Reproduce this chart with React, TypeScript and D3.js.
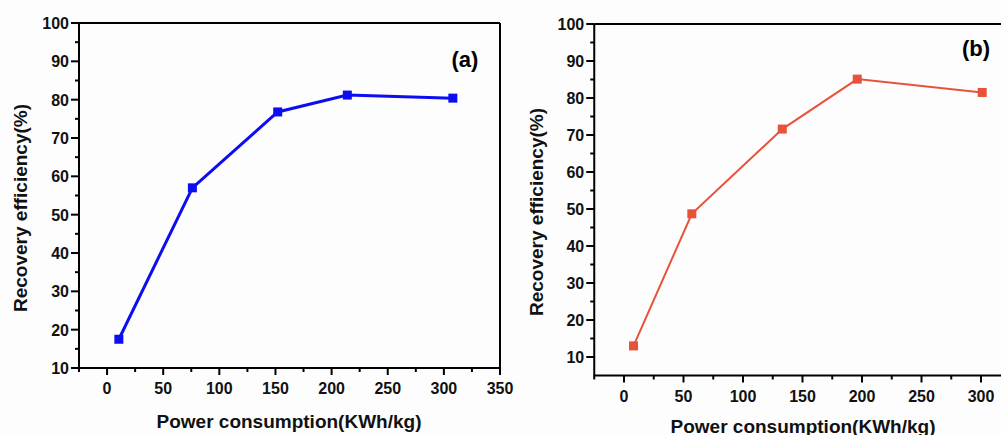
import React from 'react';
import * as d3 from 'd3';

// panel (a)
const powerA = [10.5, 76, 152, 214, 308];
const effA = [17.5, 57, 76.8, 81.2, 80.4];
// panel (b)
const powerB = [8, 57, 133, 196, 301];
const effB = [13, 48.7, 71.6, 85.1, 81.5];

const xTickLabels = [0, 50, 100, 150, 200, 250, 300, 350];
const yTickLabels = [10, 20, 30, 40, 50, 60, 70, 80, 90, 100];

const xTitle = 'Power consumption(KWh/kg)';
const yTitle = 'Recovery efficiency(%)';

const FONT = '"Liberation Sans", Arial, sans-serif';
const W = 1001;

type PanelProps = {
  xs: number[];
  ys: number[];
  color: string;
  lineWidth: number;
  marker: number;
  label: string;
  xRange: [number, number];
  yRange: [number, number];
  yDomain: [number, number];
  labelPos: [number, number];
  yTitlePos: [number, number];
  xTitlePos: [number, number];
};

function Panel(p: PanelProps) {
  const x = d3.scaleLinear().domain([-25, 350]).range(p.xRange);
  const y = d3.scaleLinear().domain(p.yDomain).range(p.yRange);
  const [x0, x1] = p.xRange;
  const [yb, yt] = p.yRange;

  const xMinor = d3.range(-25, 351, 50);
  const yMinor = d3.range(15, 100, 10);
  const line = d3.line<number>().x((d, i) => x(p.xs[i])).y(d => y(d));

  return (
    <g fontFamily={FONT} fontWeight="bold" fill="#111">
      {/* frame: left, bottom, top, right */}
      <path d={`M${x0},${yt}H${x1}M${x0},${yt}V${yb}H${x1}V${yt}`} fill="none" stroke="#000" strokeWidth={2} />
      {xTickLabels.filter(t => x(t) < W).map(t => (
        <g key={'xt' + t}>
          <line x1={x(t)} x2={x(t)} y1={yb} y2={yb + 7} stroke="#000" strokeWidth={2} />
          {x(t) + 14 < W && (
            <text x={x(t)} y={yb + 26} fontSize={16} textAnchor="middle">{t}</text>
          )}
        </g>
      ))}
      {xMinor.map(t => (
        <line key={'xm' + t} x1={x(t)} x2={x(t)} y1={yb} y2={yb + 4} stroke="#000" strokeWidth={2} />
      ))}
      {yTickLabels.map(t => (
        <g key={'yt' + t}>
          <line x1={x0 - 8} x2={x0} y1={y(t)} y2={y(t)} stroke="#000" strokeWidth={2} />
          <text x={x0 - 10} y={y(t) + 6} fontSize={16} textAnchor="end">{t}</text>
        </g>
      ))}
      {yMinor.map(t => (
        <line key={'ym' + t} x1={x0 - 4} x2={x0} y1={y(t)} y2={y(t)} stroke="#000" strokeWidth={2} />
      ))}
      <path d={line(p.ys) || ''} fill="none" stroke={p.color} strokeWidth={p.lineWidth} />
      {p.ys.map((v, i) => (
        <rect key={'m' + i} x={x(p.xs[i]) - p.marker / 2} y={y(v) - p.marker / 2}
          width={p.marker} height={p.marker} fill={p.color} />
      ))}
      <text x={p.labelPos[0]} y={p.labelPos[1]} fontSize={22} textAnchor="middle" fill="#000">{p.label}</text>
      <text x={p.xTitlePos[0]} y={p.xTitlePos[1]} fontSize={19} textAnchor="middle">{xTitle}</text>
      <text transform={`translate(${p.yTitlePos[0]},${p.yTitlePos[1]}) rotate(-90)`} fontSize={19} textAnchor="middle">{yTitle}</text>
    </g>
  );
}

export default function App() {
  return (
    <svg width={W} height={435} style={{ position: 'absolute', left: 0, top: 0, background: '#fdfdfd' }}>
      <Panel xs={powerA} ys={effA} color="#0d0df2" lineWidth={3} marker={9} label="(a)"
        xRange={[79, 500]} yRange={[368, 23]} yDomain={[10, 100]}
        labelPos={[465, 67]} xTitlePos={[289, 428]} yTitlePos={[27, 208]} />
      <Panel xs={powerB} ys={effB} color="#e8523a" lineWidth={2} marker={9} label="(b)"
        xRange={[594.25, 1040.5]} yRange={[375.5, 24]} yDomain={[5, 100]}
        labelPos={[976, 56]} xTitlePos={[803, 433]} yTitlePos={[543, 212]} />
    </svg>
  );
}
